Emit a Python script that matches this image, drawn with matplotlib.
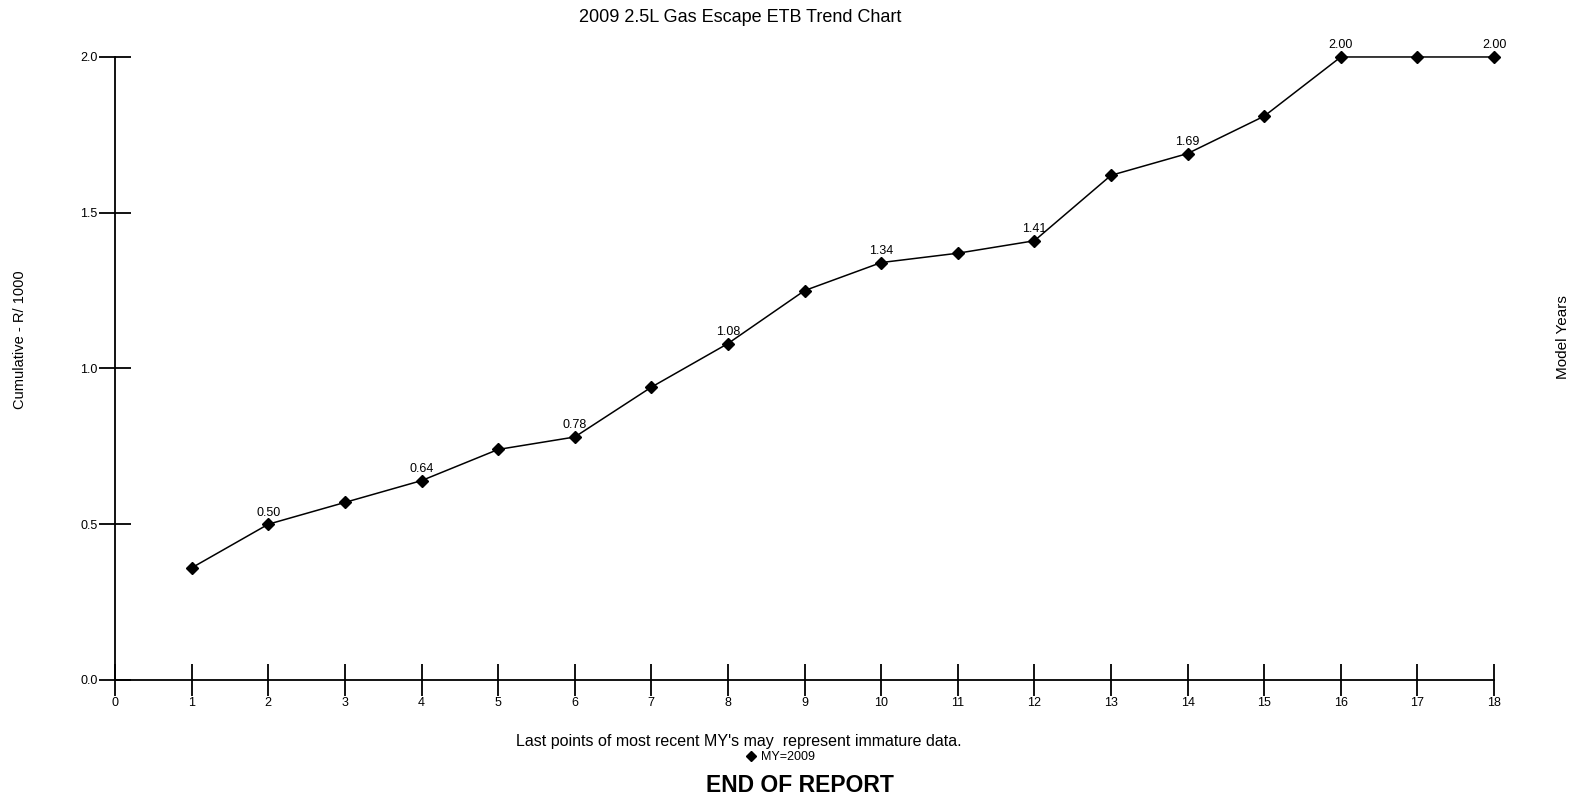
import matplotlib
matplotlib.use("Agg")
import matplotlib.pyplot as plt
from matplotlib.lines import Line2D

plt.rcParams['font.family'] = ['Liberation Sans', 'DejaVu Sans']

months = list(range(1, 19))
values = [0.36, 0.50, 0.57, 0.64, 0.74, 0.78, 0.94, 1.08, 1.25, 1.34,
          1.37, 1.41, 1.62, 1.69, 1.81, 2.00, 2.00, 2.00]
labeled_months = [2, 4, 6, 8, 10, 12, 14, 16, 18]
x_ticks = list(range(0, 19))
y_ticks = [0.0, 0.5, 1.0, 1.5, 2.0]
title = "2009 2.5L Gas Escape ETB Trend Chart"
series_name = "MY=2009"

fig = plt.figure(figsize=(15.72, 7.98), dpi=100)
ax = fig.add_axes([0.0732, 0.1479, 0.8772, 0.7807])

ax.plot(months, values, color='black', lw=1.1, marker='D', markersize=6.5,
        markerfacecolor='black', markeredgecolor='black', clip_on=False)
for m, v in zip(months, values):
    if m in labeled_months:
        ax.annotate(f"{v:.2f}", (m, v), xytext=(0, 4), textcoords='offset points',
                    ha='center', va='bottom', fontsize=9)

ax.set_xlim(0, 18)
ax.set_ylim(0, 2.0)
ax.set_xticks(x_ticks)
ax.set_yticks(y_ticks)
ax.set_yticklabels([f"{t:.1f}" for t in y_ticks])
ax.spines['top'].set_visible(False)
ax.spines['right'].set_visible(False)
ax.spines['left'].set_linewidth(1.3)
ax.spines['bottom'].set_linewidth(1.3)
ax.tick_params(axis='both', direction='inout', length=23, width=1.3, labelsize=9)
ax.tick_params(axis='y', pad=1)
ax.tick_params(axis='x', pad=1)

fig.text(0.471, 0.978, title, ha='center', va='center', fontsize=13)
fig.text(0.013, 0.574, "Cumulative - R/ 1000", rotation=90, ha='center', va='center', fontsize=10.5)
fig.text(0.994, 0.578, "Model Years", rotation=90, ha='center', va='center', fontsize=11)
fig.text(0.470, 0.0714, "Last points of most recent MY's may  represent immature data.",
         ha='center', va='center', fontsize=11.5)
handle = Line2D([], [], color='black', lw=0, marker='D', markersize=5.5)
fig.legend([handle], [series_name], loc='center', bbox_to_anchor=(0.497, 0.051),
           frameon=False, fontsize=9, handlelength=0.6, handletextpad=0.5,
           borderpad=0, borderaxespad=0)
fig.text(0.509, 0.016, "END OF REPORT", ha='center', va='center', fontsize=16.5, fontweight='bold')

fig.savefig("out.png", dpi=100)
